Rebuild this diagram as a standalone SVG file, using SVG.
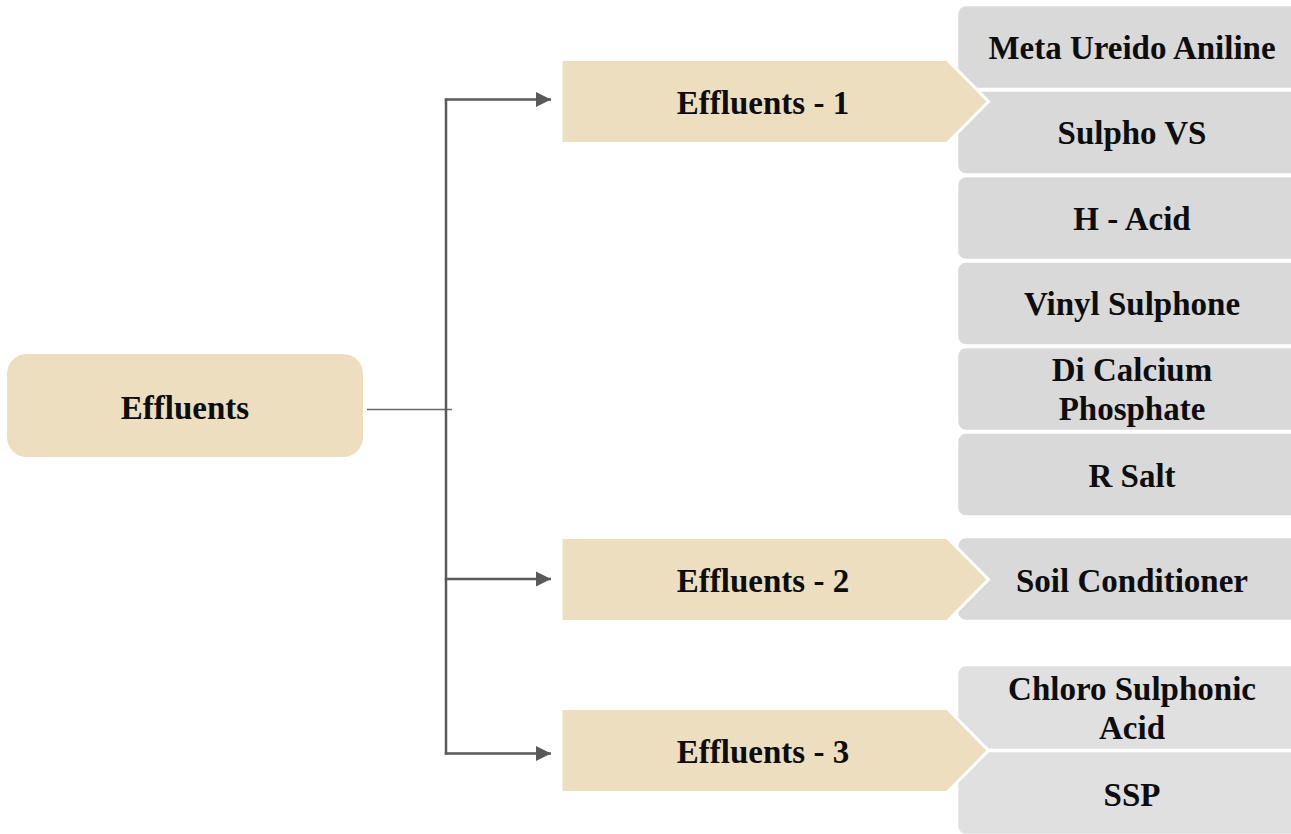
<svg xmlns="http://www.w3.org/2000/svg" width="1291" height="834" viewBox="0 0 1291 834">
<style>
.t{font-family:"Liberation Serif","Times New Roman",serif;font-weight:bold;font-size:33px;fill:#0d0d0d;text-anchor:middle}
.beige{fill:#EDDEC0}
.chev{fill:#EDDEC0;stroke:#fff;stroke-width:3;stroke-linejoin:miter}
.g1{fill:#D9D9D9;stroke:#fff;stroke-width:2.5}
.g3{fill:#E0E0E0;stroke:#fff;stroke-width:2.5}
.ln{stroke:#595959;stroke-width:2.5;fill:none}
</style>
<defs>
<marker id="ah" markerUnits="userSpaceOnUse" markerWidth="16" markerHeight="16" refX="15" refY="8" orient="auto">
<path d="M0,0.5 L15,8 L0,15.5 z" fill="#595959"/>
</marker>
</defs>
<rect width="1291" height="834" fill="#fff"/>

<g id="connectors">
<line x1="367" y1="409.5" x2="452" y2="409.5" stroke="#6a6a6a" stroke-width="1.6"/>
<line class="ln" x1="446" y1="98.5" x2="446" y2="754.5"/>
<line class="ln" x1="444.8" y1="99.5" x2="551" y2="99.5" marker-end="url(#ah)"/>
<line class="ln" x1="444.8" y1="579" x2="551" y2="579" marker-end="url(#ah)"/>
<line class="ln" x1="444.8" y1="753.5" x2="551" y2="753.5" marker-end="url(#ah)"/>
</g>

<g id="effluents">
<rect class="beige" x="7" y="354" width="356" height="103" rx="20"/>
<text class="t" x="185" y="419">Effluents</text>
</g>

<g id="items-1">
<rect class="g1" x="957" y="5" width="345" height="84" rx="9"/>
<text class="t" x="1132" y="59">Meta Ureido Aniline</text>
<rect class="g1" x="957" y="90.5" width="345" height="84" rx="9"/>
<text class="t" x="1132" y="144">Sulpho VS</text>
<rect class="g1" x="957" y="176" width="345" height="84" rx="9"/>
<text class="t" x="1132" y="230">H - Acid</text>
<rect class="g1" x="957" y="261.5" width="345" height="84" rx="9"/>
<text class="t" x="1132" y="315">Vinyl Sulphone</text>
<rect class="g1" x="957" y="347" width="345" height="84" rx="9"/>
<text class="t" x="1132" y="381">Di Calcium</text>
<text class="t" x="1132" y="420">Phosphate</text>
<rect class="g1" x="957" y="432.5" width="345" height="84" rx="9"/>
<text class="t" x="1132" y="487">R Salt</text>
</g>

<g id="effluents-1">
<path class="chev" d="M561,59.5 L947,59.5 L988.5,101.5 L947,143.5 L561,143.5 Z"/>
<text class="t" x="763" y="114">Effluents - 1</text>
</g>

<g id="items-2">
<rect class="g1" x="957" y="537" width="345" height="84" rx="9"/>
<text class="t" x="1132" y="592">Soil Conditioner</text>
</g>

<g id="effluents-2">
<path class="chev" d="M561,537.5 L947,537.5 L988.5,579.5 L947,621.5 L561,621.5 Z"/>
<text class="t" x="763" y="592">Effluents - 2</text>
</g>

<g id="items-3">
<rect class="g3" x="957" y="665" width="345" height="85" rx="9"/>
<text class="t" x="1132" y="700">Chloro Sulphonic</text>
<text class="t" x="1132" y="739">Acid</text>
<rect class="g3" x="957" y="751" width="345" height="84" rx="9"/>
<text class="t" x="1132" y="806">SSP</text>
</g>

<g id="effluents-3">
<path class="chev" d="M561,708.5 L947,708.5 L988.5,750.5 L947,792.5 L561,792.5 Z"/>
<text class="t" x="763" y="763">Effluents - 3</text>
</g>
</svg>
